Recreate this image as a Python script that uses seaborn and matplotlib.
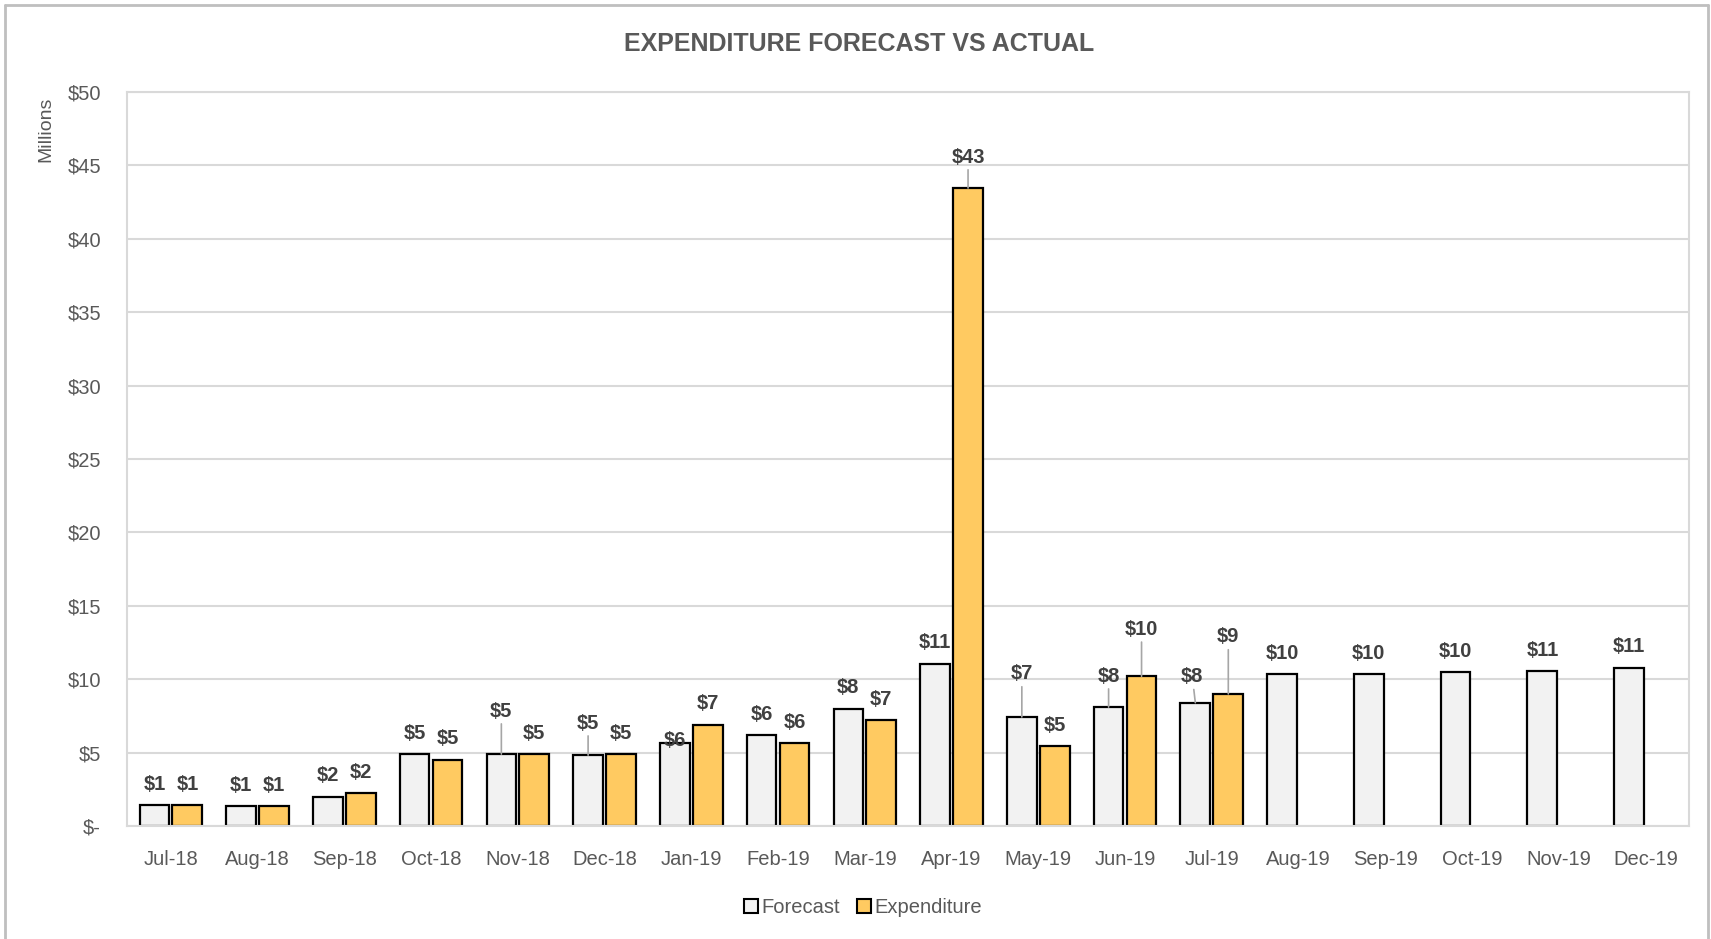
import numpy as np
import pandas as pd
import seaborn as sns
import matplotlib.pyplot as plt
from matplotlib import font_manager
from matplotlib.lines import Line2D


months = ['Jul-18', 'Aug-18', 'Sep-18', 'Oct-18', 'Nov-18', 'Dec-18',
          'Jan-19', 'Feb-19', 'Mar-19', 'Apr-19', 'May-19', 'Jun-19',
          'Jul-19', 'Aug-19', 'Sep-19', 'Oct-19', 'Nov-19', 'Dec-19']
forecast = [1.41, 1.34, 2.0, 4.9, 4.9, 4.83, 5.65, 6.17, 8.0, 11.07, 7.43, 8.1,
            8.4, 10.33, 10.33, 10.48, 10.55, 10.77]
expenditure = [1.41, 1.34, 2.23, 4.53, 4.9, 4.9, 6.9, 5.65, 7.2, 43.46, 5.42, 10.2,
               9.0, np.nan, np.nan, np.nan, np.nan, np.nan]
series = ['Forecast', 'Expenditure']
y_ticks = [0, 5, 10, 15, 20, 25, 30, 35, 40, 45, 50]

# label placement tweaks (pixels above bar top, x shift), leader line flag
label_offsets = {
    ('Forecast', 'Nov-18'): (43, 0, True),
    ('Forecast', 'Dec-18'): (32, 0, True),
    ('Forecast', 'Jan-19'): (3, 0, False),
    ('Forecast', 'May-19'): (43, 0, True),
    ('Forecast', 'Jun-19'): (31, 0, True),
    ('Forecast', 'Jul-19'): (26, -3, True),
    ('Expenditure', 'Apr-19'): (31, 0, True),
    ('Expenditure', 'Jun-19'): (47, 0, True),
    ('Expenditure', 'Jul-19'): (57, 0, True),
}
DEFAULT_OFFSET = 21

COLORS = {'Forecast': '#F2F2F2', 'Expenditure': '#FFCA61'}
TEXT = '#595959'


def pick_font():
    names = {f.name for f in font_manager.fontManager.ttflist}
    for name in ['Liberation Sans Narrow', 'Liberation Sans', 'DejaVu Sans']:
        if name in names:
            return name
    return 'DejaVu Sans'


df = pd.DataFrame({'Month': months, 'Forecast': forecast, 'Expenditure': expenditure})
df = df.melt(id_vars='Month', value_vars=series, var_name='Series', value_name='Value')

sns.set_style('white')
font = pick_font()
plt.rcParams['font.family'] = [font, 'DejaVu Sans']

fig = plt.figure(figsize=(17.11, 9.39), dpi=100)
ax = fig.add_axes([0.0745, 0.1203, 0.9126, 0.7817])

sns.barplot(data=df, x='Month', y='Value', hue='Series', hue_order=series,
            palette=COLORS, saturation=1, width=0.76, gap=0.1,
            edgecolor='black', linewidth=1.6, errorbar=None, legend=False, ax=ax)

ax.set_ylim(0, 50)
ax.set_yticks(y_ticks)
ax.set_yticklabels(['$-' if v == 0 else f'${v}' for v in y_ticks])
ax.yaxis.grid(True, color='#D9D9D9', linewidth=1.5)
ax.set_axisbelow(True)
ax.set_xlabel('')
ax.set_ylabel('')
ax.tick_params(axis='both', length=0, labelsize=14.5, labelcolor=TEXT)
ax.tick_params(axis='x', pad=17)
ax.tick_params(axis='y', pad=19)
for sp in ax.spines.values():
    sp.set_color('#D9D9D9')
    sp.set_linewidth(1.5)

px2pt = 72.0 / fig.dpi
for s, cont in zip(series, ax.containers):
    vals = df[df['Series'] == s].dropna()
    for bar, m in zip(cont, vals['Month']):
        h = bar.get_height()
        if np.isnan(h):
            continue
        xc = bar.get_x() + bar.get_width() / 2
        dy, dx, leader = label_offsets.get((s, m), (DEFAULT_OFFSET, 0, False))
        arrow = None
        if leader:
            arrow = dict(arrowstyle='-', color='#A6A6A6', lw=1.2, shrinkA=0, shrinkB=0)
        ax.annotate(f'${h:.0f}', xy=(xc, h), xytext=(dx * px2pt, dy * px2pt),
                    textcoords='offset points', ha='center', va='center',
                    fontsize=14.5, fontweight='bold', color='#404040',
                    arrowprops=arrow)

fig.text(0.502, 0.953, 'EXPENDITURE FORECAST VS ACTUAL', ha='center', va='center',
         fontsize=18, fontweight='bold', color=TEXT)
fig.text(0.027, 0.862, 'Millions', rotation=90, ha='center', va='center',
         fontsize=14, color=TEXT)

handles = [Line2D([], [], marker='s', linestyle='', markersize=10.5,
                  markerfacecolor=COLORS[s], markeredgecolor='black',
                  markeredgewidth=1.5, label=s) for s in series]
fig.legend(handles=handles, loc='center', bbox_to_anchor=(0.504, 0.034), ncol=2,
           frameon=False, fontsize=14.5, handletextpad=0.1, columnspacing=0.8,
           labelcolor=TEXT, handlelength=0.8)

# outer chart border
for xs, ys in [([0.003, 0.003], [0.0, 0.995]), ([0.003, 0.998], [0.995, 0.995]),
               ([0.998, 0.998], [0.0, 0.995])]:
    fig.add_artist(Line2D(xs, ys, transform=fig.transFigure, color='#BFBFBF', lw=2))

plt.savefig('out.png', dpi=100)
